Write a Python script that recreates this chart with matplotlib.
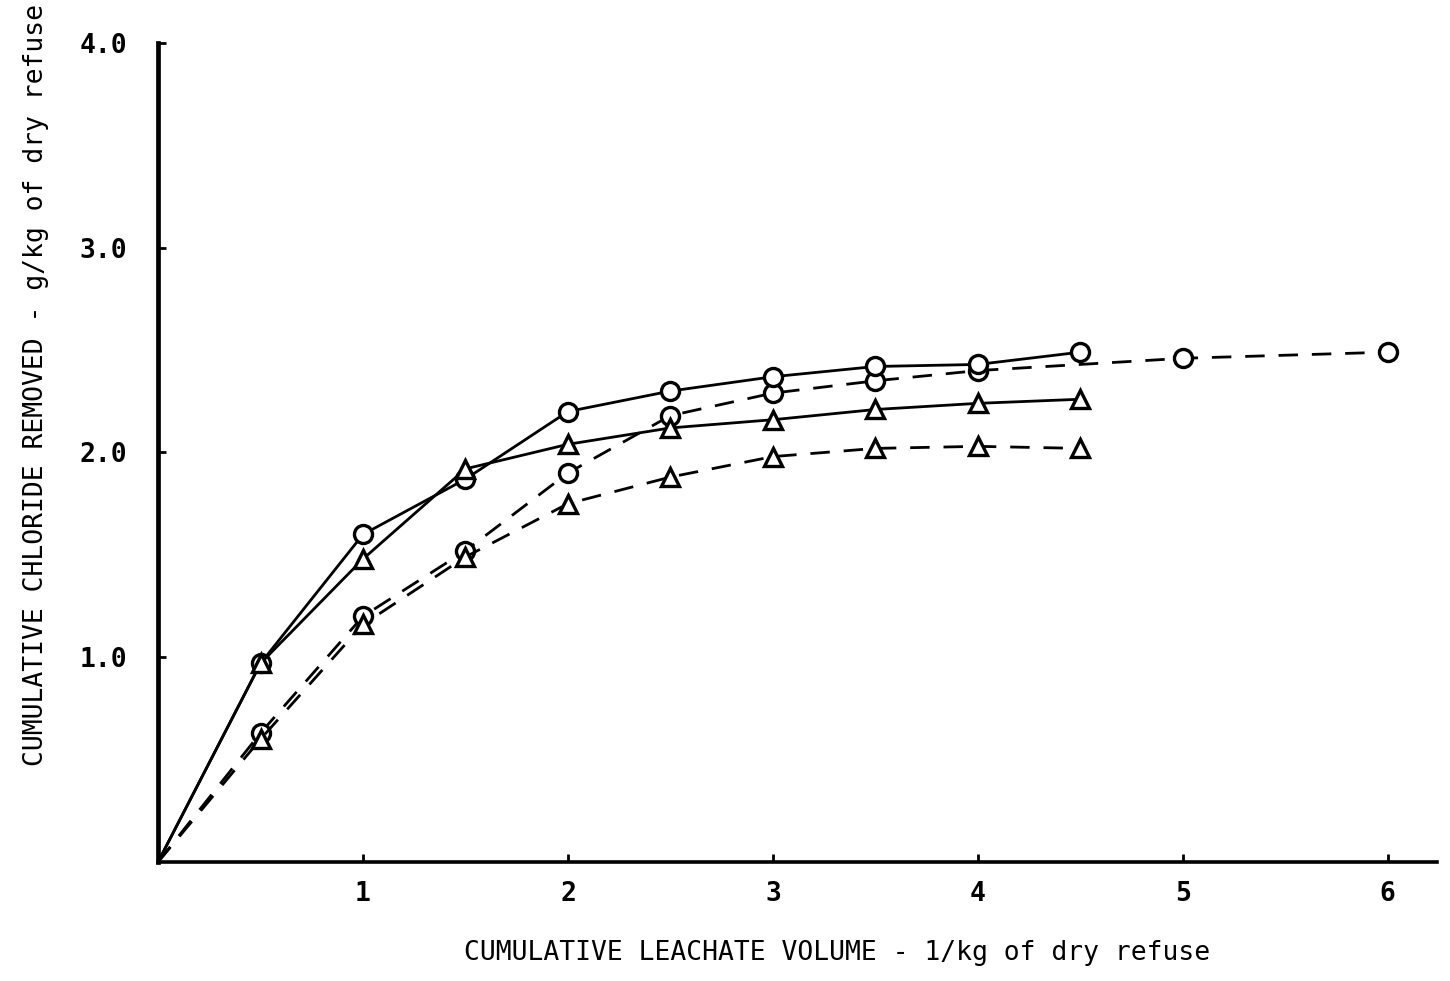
#!/usr/bin/env python3

import matplotlib
matplotlib.use('Agg')
import matplotlib.pyplot as plt

# cumulative leachate volume (l/kg of dry refuse)
vol_a = [0, 0.5, 1.0, 1.5, 2.0, 2.5, 3.0, 3.5, 4.0, 4.5]
vol_b = [0, 0.5, 1.0, 1.5, 2.0, 2.5, 3.0, 3.5, 4.0, 5.0, 6.0]

# cumulative chloride removed (g/kg of dry refuse)
solid_circle = [0, 0.97, 1.60, 1.87, 2.20, 2.30, 2.37, 2.42, 2.43, 2.49]
solid_triangle = [0, 0.97, 1.48, 1.92, 2.04, 2.12, 2.16, 2.21, 2.24, 2.26]
dashed_circle = [0, 0.63, 1.20, 1.52, 1.90, 2.18, 2.29, 2.35, 2.40, 2.46, 2.49]
dashed_triangle = [0, 0.60, 1.16, 1.49, 1.75, 1.88, 1.98, 2.02, 2.03, 2.02]

x_ticks = [1, 2, 3, 4, 5, 6]
y_ticks = [1.0, 2.0, 3.0, 4.0]

font = 'DejaVu Sans Mono'
plt.rcParams['font.family'] = [font]

fig = plt.figure(figsize=(14.5, 9.81), dpi=100)
ax = fig.add_axes([0.109, 0.1213, 0.882, 0.8349])

style = dict(color='black', markerfacecolor='white', markeredgecolor='black',
             markeredgewidth=2.4, markersize=13)

ax.plot(vol_a, solid_circle, '-', marker='o', linewidth=2.0, zorder=3, **style)
ax.plot(vol_a, solid_triangle, '-', marker='^', linewidth=2.0, zorder=3, **style)
ax.plot(vol_b, dashed_circle, '--', marker='o', linewidth=2.0, dashes=(7, 5), zorder=2, **style)
ax.plot(vol_a, dashed_triangle, '--', marker='^', linewidth=2.0, dashes=(7, 5), zorder=2, **style)

# no marker at the origin
for line in ax.lines:
    line.set_markevery(list(range(1, len(line.get_xdata()))))

ax.set_xlim(0, 6.24)
ax.set_ylim(0, 4.0)

ax.spines['top'].set_visible(False)
ax.spines['right'].set_visible(False)
ax.spines['left'].set_linewidth(3.4)
ax.spines['bottom'].set_linewidth(2.6)

ax.set_xticks(x_ticks)
ax.set_xticklabels([str(t) for t in x_ticks])
ax.set_yticks(y_ticks)
ax.set_yticklabels(['%.1f' % t for t in y_ticks])
ax.tick_params(axis='x', direction='in', length=6, width=2, pad=14, labelsize=19)
ax.tick_params(axis='y', direction='in', length=6, width=2, pad=22, labelsize=19)
for lbl in ax.get_xticklabels() + ax.get_yticklabels():
    lbl.set_fontweight('bold')

ax.set_xlabel('CUMULATIVE LEACHATE VOLUME - 1/kg of dry refuse', fontsize=19)
ax.set_ylabel('CUMULATIVE CHLORIDE REMOVED - g/kg of dry refuse', fontsize=19)
ax.xaxis.set_label_coords(0.531, -0.095)
ax.yaxis.set_label_coords(-0.085, 0.582)

fig.savefig('out.png', dpi=100, facecolor='white')
